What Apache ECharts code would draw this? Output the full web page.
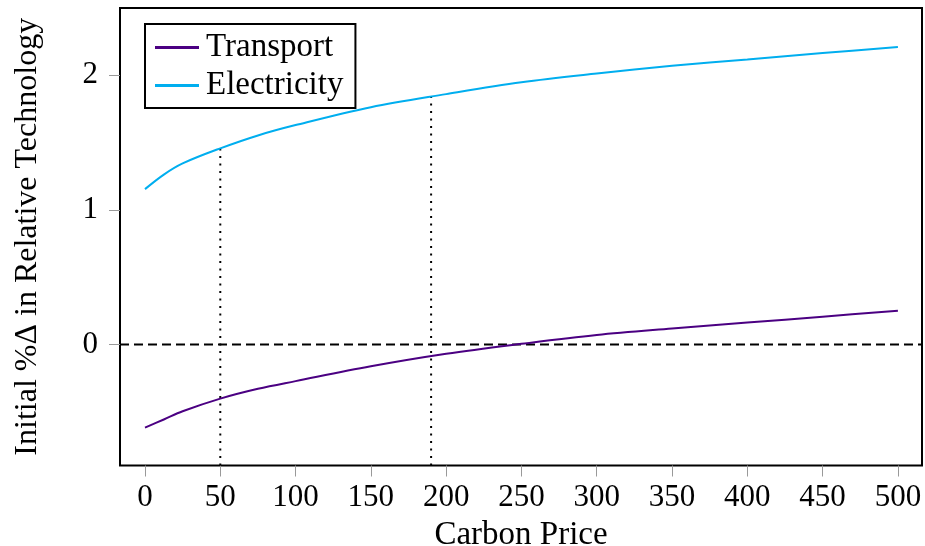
<!DOCTYPE html>
<html>
<head>
<meta charset="utf-8">
<script src="https://cdn.jsdelivr.net/npm/echarts@6/dist/echarts.min.js"></script>
<style>
html,body{margin:0;padding:0;background:#fff;}
#chart{width:925px;height:546px;}
</style>
</head>
<body>
<div id="chart"></div>
<script>
// Data
var carbonPrice = [0, 12.5, 25, 50, 75, 100, 150, 200, 250, 300, 350, 400, 450, 500];
var transport = [-0.618, -0.558, -0.497, -0.403, -0.330, -0.273, -0.163, -0.070, 0.004, 0.070, 0.118, 0.162, 0.206, 0.250];
var electricity = [1.154, 1.262, 1.345, 1.457, 1.553, 1.630, 1.763, 1.860, 1.948, 2.013, 2.070, 2.117, 2.165, 2.210];
var refX = [50, 190];
var refTop = [1.455, 1.842];
var xTicks = [0, 50, 100, 150, 200, 250, 300, 350, 400, 450, 500];
var yTicks = [0, 1, 2];
var xMin = -16.6, xMax = 516, yMin = -0.9, yMax = 2.5;

function pairs(xs, ys){ return xs.map(function(x,i){ return [x, ys[i]]; }); }

var FONT = 'Liberation Serif';
var series = [
  { name: 'Transport', type: 'line', data: pairs(carbonPrice, transport), smooth: 0.35,
    symbol: 'none', lineStyle: { color: '#4B0082', width: 2 }, itemStyle: { color: '#4B0082' }, z: 5 },
  { name: 'Electricity', type: 'line', data: pairs(carbonPrice, electricity), smooth: 0.35,
    symbol: 'none', lineStyle: { color: '#00AEEF', width: 2 }, itemStyle: { color: '#00AEEF' }, z: 5 },
  { name: '_zero', type: 'line', data: [[xMin, 0], [xMax, 0]], symbol: 'none', silent: true,
    lineStyle: { color: '#000', width: 2, type: [9, 5] }, z: 3 }
];
refX.forEach(function(x, i){
  series.push({ name: '_ref' + i, type: 'line', data: [[x, yMin], [x, refTop[i]]], symbol: 'none', silent: true,
    lineStyle: { color: '#000', width: 2, type: [2, 5.5] }, z: 3 });
});

var chart = echarts.init(document.getElementById('chart'), null, { renderer: 'canvas' });
chart.setOption({
  animation: false,
  backgroundColor: '#fff',
  textStyle: { fontFamily: FONT },
  grid: { left: 120, right: 3, top: 8, bottom: 80.5, show: true, borderColor: '#000', borderWidth: 2,
    backgroundColor: 'transparent', containLabel: false, outerBoundsMode: 'none' },
  legend: {
    data: ['Transport', 'Electricity'],
    orient: 'vertical', left: 145, top: 24,
    backgroundColor: '#fff', borderColor: '#000', borderWidth: 2,
    padding: [7, 12, 6, 10], itemGap: 5, itemWidth: 44, itemHeight: 3,
    icon: 'rect',
    textStyle: { fontFamily: FONT, fontSize: 33, color: '#000', lineHeight: 32, padding: [0,0,0,2] }
  },
  xAxis: {
    type: 'value', min: xMin, max: xMax,
    name: 'Carbon Price', nameLocation: 'middle', nameGap: 44,
    nameTextStyle: { fontFamily: FONT, fontSize: 33, color: '#000' },
    axisLine: { show: false, onZero: false },
    axisTick: { show: true, inside: false, length: 11, customValues: xTicks, lineStyle: { color: '#999', width: 1 } },
    axisLabel: { customValues: xTicks, fontFamily: FONT, fontSize: 31, color: '#000', margin: 17 },
    splitLine: { show: false }
  },
  yAxis: {
    type: 'value', min: yMin, max: yMax,
    name: 'Initial %Δ in Relative Technology', nameLocation: 'middle', nameGap: 76, nameRotate: 90,
    nameTextStyle: { fontFamily: FONT, fontSize: 32, color: '#000' },
    axisLine: { show: false, onZero: false },
    axisTick: { show: true, inside: false, length: 11, customValues: yTicks, lineStyle: { color: '#999', width: 1 } },
    axisLabel: { customValues: yTicks, fontFamily: FONT, fontSize: 31, color: '#000', margin: 22 },
    splitLine: { show: false }
  },
  series: series
});
</script>
</body>
</html>
